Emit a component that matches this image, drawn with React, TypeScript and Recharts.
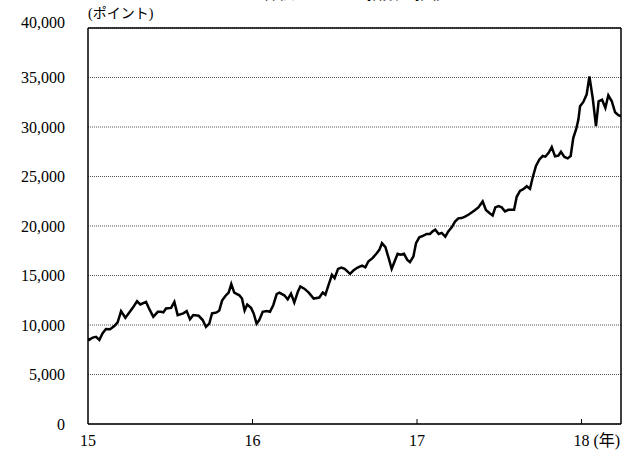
import { CartesianGrid, Line, LineChart, ReferenceLine, XAxis, YAxis } from "recharts"

// Weekly closes, position in years (15 = Jan 2015)
const weeks = [
  15.0, 15.008, 15.029, 15.049, 15.069, 15.089, 15.109, 15.134, 15.16, 15.18,
  15.201, 15.227, 15.251, 15.272, 15.298, 15.318, 15.353, 15.373, 15.397, 15.424,
  15.444, 15.458, 15.474, 15.505, 15.525, 15.545, 15.579, 15.6, 15.62, 15.64,
  15.673, 15.697, 15.717, 15.737, 15.754, 15.782, 15.798, 15.815, 15.835, 15.855,
  15.871, 15.889, 15.92, 15.936, 15.952, 15.968, 15.991, 16.007, 16.025, 16.041,
  16.062, 16.086, 16.106, 16.126, 16.147, 16.163, 16.193, 16.214, 16.234, 16.254,
  16.275, 16.291, 16.315, 16.342, 16.372, 16.406, 16.427, 16.443, 16.463, 16.483,
  16.499, 16.52, 16.54, 16.56, 16.593, 16.613, 16.639, 16.666, 16.686, 16.704,
  16.731, 16.755, 16.771, 16.787, 16.808, 16.826, 16.846, 16.866, 16.882, 16.901,
  16.921, 16.941, 16.957, 16.978, 16.994, 17.014, 17.039, 17.059, 17.079, 17.095,
  17.111, 17.132, 17.15, 17.172, 17.19, 17.211, 17.231, 17.251, 17.271, 17.292,
  17.312, 17.332, 17.353, 17.373, 17.399, 17.419, 17.44, 17.46, 17.476, 17.496,
  17.515, 17.535, 17.555, 17.576, 17.59, 17.606, 17.626, 17.646, 17.667, 17.687,
  17.703, 17.723, 17.744, 17.764, 17.78, 17.8, 17.819, 17.839, 17.859, 17.875,
  17.896, 17.916, 17.934, 17.95, 17.967, 17.981, 17.991, 18.011, 18.031, 18.048,
  18.068, 18.088, 18.104, 18.125, 18.145, 18.163, 18.184, 18.204, 18.224, 18.24,
]

const merval = [
  8670, 8500, 8730, 8800, 8500, 9170, 9600, 9570, 9900, 10270,
  11400, 10730, 11270, 11730, 12400, 12070, 12330, 11600, 10830, 11330,
  11330, 11270, 11670, 11730, 12330, 11000, 11170, 11400, 10570, 11000,
  10930, 10500, 9800, 10130, 11170, 11270, 11470, 12470, 12930, 13270,
  14130, 13270, 13000, 12670, 11470, 12070, 11730, 11170, 10130, 10500,
  11330, 11400, 11330, 12000, 13130, 13270, 13000, 12600, 13170, 12270,
  13330, 13900, 13670, 13270, 12670, 12770, 13270, 13070, 14070, 15070,
  14730, 15670, 15800, 15670, 15170, 15500, 15800, 16000, 15830, 16420,
  16780, 17250, 17590, 18260, 17860, 16850, 15680, 16520, 17190, 17090,
  17190, 16580, 16350, 16920, 18260, 18860, 19030, 19200, 19200, 19460,
  19630, 19200, 19300, 18930, 19460, 19870, 20440, 20770, 20800, 20940,
  21140, 21370, 21610, 21880, 22480, 21610, 21310, 21070, 21880, 22010,
  21880, 21470, 21640, 21640, 21640, 22950, 23550, 23720, 24020, 23750,
  24890, 26060, 26730, 27070, 27000, 27400, 27970, 27040, 27100, 27500,
  26970, 26830, 27070, 28910, 29750, 30750, 32090, 32530, 33270, 35110,
  32930, 30080, 32600, 32760, 31930, 33200, 32600, 31490, 31190, 31090,
]

const xTicks = [15, 16, 17, 18]
const yTicks = [0, 5000, 10000, 15000, 20000, 25000, 30000, 35000, 40000]
const xEnd = 18.24

const data = weeks.map((t, i) => ({ t, v: merval[i] }))

const serif = "Liberation Serif, Times New Roman, DejaVu Serif, serif"
const mincho = "Liberation Serif, Noto Sans CJK JP, serif"

function YearTick(props: any) {
  const { x, y, payload } = props
  return (
    <g>
      {payload.value !== 15 && <line x1={x} x2={x} y1={y} y2={y - 5} stroke="#000" strokeWidth={1} />}
      <text x={x} y={y + 22} textAnchor="middle" fontSize={16} style={{ fontFamily: serif }} fill="#000">
        {payload.value}
      </text>
      {payload.value === 18 && (
        <text x={x + 12} y={y + 22} textAnchor="start" fontSize={16} style={{ fontFamily: mincho }} fill="#000">
          (年)
        </text>
      )}
    </g>
  )
}

function PointTick(props: any) {
  const { x, y, payload } = props
  // top label sits a little above the frame
  const shift = payload.value === 40000 ? -6 : 0
  return (
    <text x={x} y={y + shift} dy="0.36em" textAnchor="end" fontSize={16} style={{ fontFamily: serif }} fill="#000">
      {payload.value.toLocaleString("en-US")}
    </text>
  )
}

export default function App() {
  return (
    <div style={{ position: "absolute", left: 0, top: 0, width: 637, height: 457, overflow: "hidden", background: "#fff" }}>
      <div
        style={{
          position: "absolute",
          left: 167,
          top: -14,
          fontSize: 16,
          lineHeight: "16px",
          whiteSpace: "nowrap",
          fontFamily: mincho,
        }}
      >
        アルゼンチン株価 MERVAL 指数の推移
      </div>
      <div
        style={{
          position: "absolute",
          left: 88,
          top: 5,
          fontSize: 14,
          lineHeight: "18px",
          whiteSpace: "nowrap",
          fontFamily: mincho,
        }}
      >
        (ポイント)
      </div>
      <LineChart width={637} height={457} data={data} margin={{ top: 28, right: 16, bottom: 0, left: 0 }}>
        <CartesianGrid vertical={false} stroke="#555" strokeDasharray="1 1" />
        <XAxis
          dataKey="t"
          type="number"
          domain={[15, xEnd]}
          ticks={xTicks}
          allowDataOverflow
          height={33}
          tickSize={0}
          tickMargin={0}
          tickLine={false}
          axisLine={{ stroke: "#000", strokeWidth: 1.5 }}
          tick={<YearTick />}
        />
        <YAxis
          domain={[0, 40000]}
          ticks={yTicks}
          width={88}
          tickSize={0}
          tickMargin={23}
          tickLine={false}
          axisLine={{ stroke: "#000", strokeWidth: 1.5 }}
          tick={<PointTick />}
        />
        <ReferenceLine y={40000} stroke="#000" strokeWidth={1.5} />
        <ReferenceLine x={xEnd} stroke="#000" strokeWidth={1.5} />
        <Line
          type="linear"
          dataKey="v"
          stroke="#000"
          strokeWidth={2.5}
          dot={false}
          isAnimationActive={false}
        />
      </LineChart>
    </div>
  )
}
